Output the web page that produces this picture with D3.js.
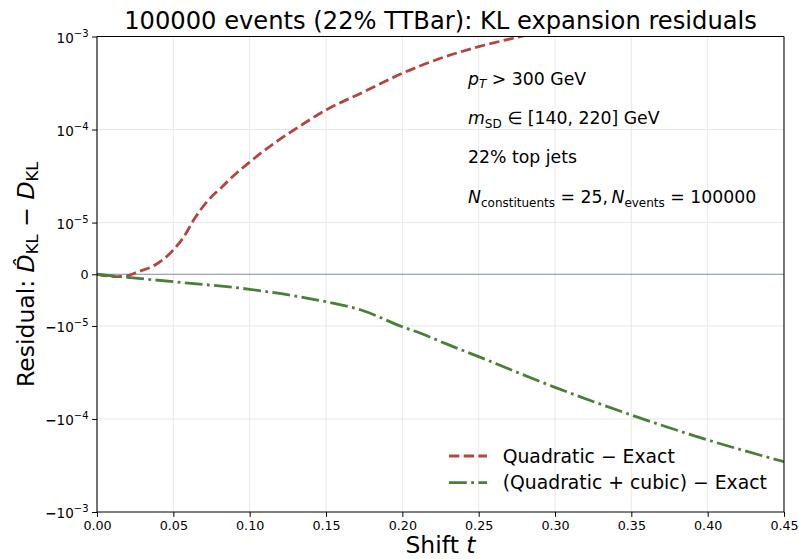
<!DOCTYPE html>
<html>
<head>
<meta charset="utf-8">
<script src="https://cdn.jsdelivr.net/npm/d3@7"></script>
<style>
  html, body { margin: 0; padding: 0; background: #fff; }
  svg { display: block; font-family: "DejaVu Sans", sans-serif; }
</style>
</head>
<body>
<svg id="chart" width="799" height="559"></svg>
<script>
// ---------------- data ----------------
const shiftQuad = [0, 0.006, 0.012, 0.019, 0.027, 0.038, 0.05, 0.057, 0.064, 0.073, 0.082, 0.09, 0.099, 0.116, 0.129, 0.15, 0.175, 0.2, 0.225, 0.25, 0.277, 0.30];
const residQuad = [0, -3e-7, -4.7e-7, -3.4e-7, 4.9e-7, 1.79e-6, 4.7e-6, 7.3e-6, 1.11e-5, 1.75e-5, 2.43e-5, 3.24e-5, 4.33e-5, 7.11e-5, 9.89e-5, 1.62e-4, 2.55e-4, 4.02e-4, 5.83e-4, 7.77e-4, 9.95e-4, 1.22e-3];
const shiftCubic = [0, 0.02, 0.05, 0.1, 0.13, 0.15, 0.173, 0.2, 0.212, 0.228, 0.25, 0.3, 0.35, 0.4, 0.45];
const residCubic = [0, -5.9e-7, -1.44e-6, -2.91e-6, -4.21e-6, -5.31e-6, -6.92e-6, -1.02e-5, -1.2e-5, -1.54e-5, -2.14e-5, -4.57e-5, -9.06e-5, -1.68e-4, -2.88e-4];
const xTicks = [0, 0.05, 0.10, 0.15, 0.20, 0.25, 0.30, 0.35, 0.40, 0.45];
const yTicks = [-1e-3, -1e-4, -1e-5, 0, 1e-5, 1e-4, 1e-3];
const seriesNames = ["Quadratic \u2212 Exact", "(Quadratic + cubic) \u2212 Exact"];
const seriesColors = ["#b5443f", "#4b7f37"];
const titleText = "100000 events (22% TTBar): KL expansion residuals";

// ---------------- layout ----------------
const L = 97, R = 784, T = 36.5, B = 512;
const svg = d3.select("#chart");

// symlog transform (matplotlib style, linthresh 1e-5, linscale 0.5)
const linthresh = 1e-5, linscale = 0.5;
const linAdj = linscale / (1 - 1 / 10);
function symT(v) {
  const a = Math.abs(v);
  if (a <= linthresh) return v / linthresh * linAdj;
  return Math.sign(v) * (linAdj + Math.log10(a / linthresh));
}
const x = d3.scaleLinear().domain([0, 0.45]).range([L, R]);
const yT = d3.scaleLinear().domain([-symT(1e-3), symT(1e-3)]).range([B, T]);
const y = v => yT(symT(v));

// clip
svg.append("defs").append("clipPath").attr("id", "clip")
  .append("rect").attr("x", L).attr("y", T).attr("width", R - L).attr("height", B - T);

// grid
const grid = svg.append("g");
grid.selectAll("line.gx").data(xTicks.slice(1, -1)).join("line")
  .attr("x1", d => x(d)).attr("x2", d => x(d)).attr("y1", T).attr("y2", B)
  .attr("stroke", "#e8e8e8").attr("stroke-width", 1);
grid.selectAll("line.gy").data(yTicks.filter(d => d !== 0).slice(1, -1)).join("line")
  .attr("y1", d => y(d)).attr("y2", d => y(d)).attr("x1", L).attr("x2", R)
  .attr("stroke", "#e8e8e8").attr("stroke-width", 1);

// zero line
svg.append("line").attr("x1", L).attr("x2", R).attr("y1", y(0)).attr("y2", y(0))
  .attr("stroke", "#7d8ba3").attr("stroke-width", 1.2);

// lines
const line = d3.line().x(d => x(d[0])).y(d => y(d[1])).curve(d3.curveMonotoneX);
const lw = 2.8;
const plotG = svg.append("g").attr("clip-path", "url(#clip)");
plotG.append("path").datum(d3.zip(shiftQuad, residQuad))
  .attr("d", line).attr("fill", "none").attr("stroke", seriesColors[0])
  .attr("stroke-width", lw).attr("stroke-dasharray", "10.3,4.4");
plotG.append("path").datum(d3.zip(shiftCubic, residCubic))
  .attr("d", line).attr("fill", "none").attr("stroke", seriesColors[1])
  .attr("stroke-width", lw).attr("stroke-dasharray", "17.8,4.4,2.8,4.4");

// axes
const xAxis = d3.axisBottom(x).tickValues(xTicks).tickFormat(d3.format(".2f")).tickSizeOuter(0).tickSize(4.9).tickPadding(4);
const gx = svg.append("g").attr("transform", `translate(0,${B})`).call(xAxis);
gx.select(".domain").remove();
gx.selectAll("text").attr("font-size", 12.7).attr("font-family", "DejaVu Sans").attr("fill", "#000");
gx.selectAll("line").attr("stroke", "#000").attr("stroke-width", 1);

const yAxis = d3.axisLeft(yT).tickValues(yTicks.map(symT)).tickFormat("").tickSizeOuter(0).tickSize(4.9);
const gy = svg.append("g").attr("transform", `translate(${L},0)`).call(yAxis);
gy.select(".domain").remove();
gy.selectAll("line").attr("stroke", "#000").attr("stroke-width", 1);

// y tick labels
yTicks.forEach(v => {
  const t = svg.append("text").attr("x", L - 8.5).attr("y", y(v) + (v === 0 ? 4.5 : 6))
    .attr("text-anchor", "end").attr("font-size", 13.5).attr("fill", "#000");
  if (v === 0) { t.attr("font-size", 12.7).text("0"); return; }
  const e = Math.round(Math.log10(Math.abs(v)));
  if (v < 0) t.append("tspan").text("\u2212").attr("font-weight", "bold");
  t.append("tspan").text("10");
  t.append("tspan").text("\u2212" + Math.abs(e)).attr("font-size", 10).attr("dy", -6);
});

// spines
const sp = svg.append("g").attr("stroke", "#000").attr("stroke-width", 1.1);
sp.append("line").attr("x1", L).attr("x2", L).attr("y1", T).attr("y2", B);
sp.append("line").attr("x1", R).attr("x2", R).attr("y1", T).attr("y2", B);
sp.append("line").attr("x1", L).attr("x2", R).attr("y1", T).attr("y2", T);
sp.append("line").attr("x1", L).attr("x2", R).attr("y1", B).attr("y2", B);

// title
svg.append("text").attr("x", (L + R) / 2).attr("y", 29).attr("text-anchor", "middle")
  .attr("font-size", 24.2).attr("fill", "#000").text(titleText);

// x label
const xl = svg.append("text").attr("x", (L + R) / 2).attr("y", 553).attr("text-anchor", "middle")
  .attr("font-size", 23.5).attr("fill", "#000");
xl.append("tspan").text("Shift ");
xl.append("tspan").text("t").attr("font-style", "italic");

// y label
const yl = svg.append("text").attr("transform", `translate(34,${(T + B) / 2}) rotate(-90)`)
  .attr("text-anchor", "middle").attr("font-size", 23.5).attr("fill", "#000");
yl.append("tspan").text("Residual: ");
yl.append("tspan").text("D\u0302").attr("font-style", "italic");
yl.append("tspan").text("KL").attr("font-size", 16.5).attr("dy", 4);
yl.append("tspan").text(" \u2212 ").attr("dy", -4);
yl.append("tspan").text("D").attr("font-style", "italic");
yl.append("tspan").text("KL").attr("font-size", 16.5).attr("dy", 4);

// annotations
const annFs = 17.3, annX = 468;
function ann(yb, parts) {
  const t = svg.append("text").attr("x", annX).attr("y", yb).attr("font-size", annFs).attr("fill", "#000");
  parts.forEach(p => {
    const s = t.append("tspan").text(p.t);
    if (p.i) s.attr("font-style", "italic");
    if (p.sub) s.attr("font-size", 12).attr("dy", p.dy);
    else if (p.dy) s.attr("dy", p.dy);
  });
}
ann(84.7, [{t: "p", i: 1}, {t: "T", i: 1, sub: 1, dy: 3.5}, {t: " > 300 GeV", dy: -3.5}]);
ann(124, [{t: "m", i: 1}, {t: "SD", sub: 1, dy: 3.5}, {t: " \u2208 [140, 220] GeV", dy: -3.5}]);
ann(163.3, [{t: "22% top jets"}]);
ann(203.3, [{t: "N", i: 1}, {t: "constituents", sub: 1, dy: 3.5}, {t: " = 25,\u2009", dy: -3.5},
            {t: "N", i: 1}, {t: "events", sub: 1, dy: 3.5}, {t: " = 100000", dy: -3.5}]);

// legend
const legY = [456, 482.7];
const dashes = ["10.3,4.4", "17.8,4.4,2.8,4.4"];
seriesNames.forEach((n, i) => {
  svg.append("line").attr("x1", 449).attr("x2", 487).attr("y1", legY[i]).attr("y2", legY[i])
    .attr("stroke", seriesColors[i]).attr("stroke-width", lw).attr("stroke-dasharray", dashes[i]);
  svg.append("text").attr("x", 502.7).attr("y", legY[i] + 6.7).attr("font-size", 18.8)
    .attr("fill", "#000").text(n);
});
</script>
</body>
</html>
